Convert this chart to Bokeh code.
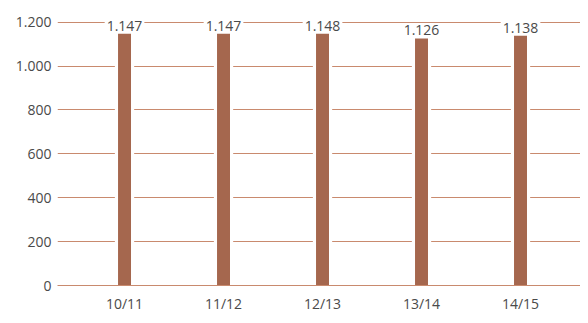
from bokeh.plotting import figure
from bokeh.models import Range1d, FixedTicker, ColumnDataSource
from bokeh.core.properties import value
from bokeh.embed import file_html
from bokeh.resources import INLINE

categories = ["10/11", "11/12", "12/13", "13/14", "14/15"]
values = [1147, 1147, 1148, 1126, 1138]
value_labels = ["1.147", "1.147", "1.148", "1.126", "1.138"]
y_ticks = [0, 200, 400, 600, 800, 1000, 1200]
y_tick_labels = ["0", "200", "400", "600", "800", "1.000", "1.200"]

BAR = "#a5674e"
GRID = "#c98a6e"
TXT = "#4a4a4a"
FONT = "Open Sans"

x = list(range(len(categories)))
src = ColumnDataSource(dict(x=x, top=values, lab=value_labels))

p = figure(width=580, height=315, output_backend="svg", toolbar_location=None,
           x_range=Range1d(-0.677, 4.606), y_range=Range1d(0, 1299),
           min_border_left=57, min_border_right=0, min_border_top=0, min_border_bottom=27)
p.outline_line_color = None
p.background_fill_color = "white"

p.vbar(x="x", top="top", bottom=0, width=0.195, source=src, fill_color="white", line_color=None)
p.vbar(x="x", top="top", bottom=0, width=0.131, source=src, fill_color=BAR, line_color=None)
p.text(x="x", y="top", text="lab", source=src, text_align="center", text_baseline="alphabetic",
       y_offset=-8, text_font=value(FONT), text_font_size="14px", text_color=TXT,
       background_fill_color="white", padding=2)

p.xgrid.grid_line_color = None
p.ygrid.ticker = FixedTicker(ticks=y_ticks)
p.ygrid.grid_line_color = GRID
p.ygrid.grid_line_width = 1

p.yaxis.ticker = FixedTicker(ticks=y_ticks)
p.yaxis.major_label_overrides = {t: l for t, l in zip(y_ticks, y_tick_labels)}
p.yaxis.axis_line_color = None
p.yaxis.major_tick_line_color = None
p.yaxis.minor_tick_line_color = None
p.yaxis.major_tick_out = 0
p.yaxis.major_label_standoff = 6
p.yaxis.major_label_text_font = FONT
p.yaxis.major_label_text_font_size = "14px"
p.yaxis.major_label_text_color = TXT

p.xaxis.ticker = FixedTicker(ticks=x)
p.xaxis.major_label_overrides = {i: c for i, c in enumerate(categories)}
p.xaxis.axis_line_color = GRID
p.xaxis.major_tick_line_color = None
p.xaxis.minor_tick_line_color = None
p.xaxis.major_tick_out = 0
p.xaxis.major_label_standoff = 8
p.xaxis.major_label_text_font = FONT
p.xaxis.major_label_text_font_size = "14px"
p.xaxis.major_label_text_color = TXT

open("out.html", "w").write(file_html(p, INLINE))
